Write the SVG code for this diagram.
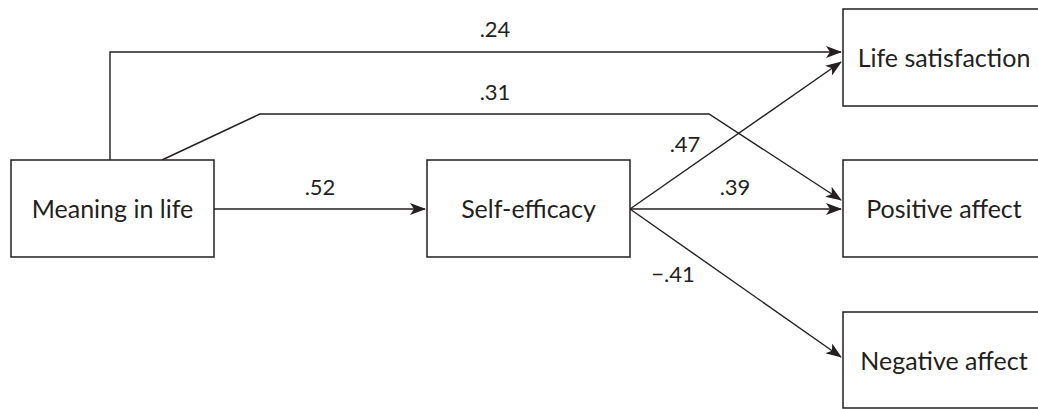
<svg xmlns="http://www.w3.org/2000/svg" width="1038" height="409" viewBox="0 0 1038 409">
<style>
.box{fill:#fff;stroke:#231f20;stroke-width:1.5}
.lbl{font-family:Lato,"Open Sans",sans-serif;font-size:25px;fill:#231f20;text-anchor:middle}
.num{font-family:Lato,"Open Sans",sans-serif;font-size:22px;fill:#231f20;text-anchor:middle}
.edge{fill:none;stroke:#231f20;stroke-width:1.4}
</style>
<defs>
<marker id="arr" viewBox="0 0 16 12" refX="15" refY="6" markerWidth="16" markerHeight="12" markerUnits="userSpaceOnUse" orient="auto">
<path d="M0,0 L16,6 L0,12 L4,6 Z" fill="#231f20"/>
</marker>
</defs>
<rect width="1038" height="409" fill="#fff"/>
<g id="connectors">
<path class="edge" d="M110,160 V52 H841" marker-end="url(#arr)"/>
<path class="edge" d="M162,160 L260,114 H709 L841,200" marker-end="url(#arr)"/>
<path class="edge" d="M214,209 H425" marker-end="url(#arr)"/>
<path class="edge" d="M630,209 L841,62" marker-end="url(#arr)"/>
<path class="edge" d="M630,209 H841" marker-end="url(#arr)"/>
<path class="edge" d="M630,209 L841,357" marker-end="url(#arr)"/>
<text class="num" x="495" y="37">.24</text>
<text class="num" x="495" y="100">.31</text>
<text class="num" x="320" y="195">.52</text>
<text class="num" x="685" y="152">.47</text>
<text class="num" x="735" y="195">.39</text>
<text class="num" x="673" y="282">−.41</text>
</g>
<g id="meaning">
<rect class="box" x="11" y="160" width="203" height="97"/>
<text class="lbl" x="112.5" y="218">Meaning in life</text>
</g>
<g id="selfefficacy">
<rect class="box" x="427" y="160" width="203" height="97"/>
<text class="lbl" x="528.5" y="218">Self-efficacy</text>
</g>
<g id="lifesat">
<rect class="box" x="843" y="9" width="203" height="97"/>
<text class="lbl" x="944" y="67">Life satisfaction</text>
</g>
<g id="posaffect">
<rect class="box" x="843" y="160" width="203" height="97"/>
<text class="lbl" x="944" y="218">Positive affect</text>
</g>
<g id="negaffect">
<rect class="box" x="843" y="312" width="203" height="96"/>
<text class="lbl" x="944" y="370">Negative affect</text>
</g>
</svg>
